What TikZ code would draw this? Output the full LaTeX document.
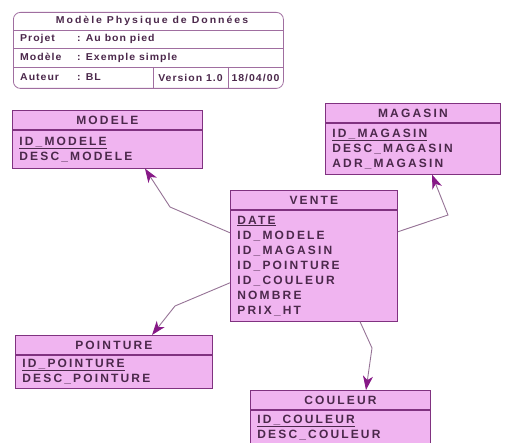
\documentclass[tikz,border=0pt]{standalone}
\usepackage{fontspec}
\usetikzlibrary{arrows.meta,positioning,calc}
\newfontfamily\mpdfont[LetterSpace=18]{Liberation Sans}
\newfontfamily\cartfont[FakeStretch=1.05,LetterSpace=10]{Liberation Sans}
\newfontfamily\titrefont[FakeStretch=1.05,LetterSpace=20]{Liberation Sans}
\definecolor{fondtable}{RGB}{240,180,240}
\definecolor{bordtable}{RGB}{128,50,128}
\definecolor{textetable}{RGB}{75,40,75}
\definecolor{lienmauve}{RGB}{150,115,150}
\definecolor{pointemauve}{RGB}{135,25,135}
\definecolor{cadremauve}{RGB}{160,110,160}

\begin{document}
\begin{tikzpicture}[x=1pt,y=-1pt,
  entete/.style={draw=bordtable,fill=fondtable,text=textetable,line width=0.8pt,
    font=\mpdfont\bfseries\fontsize{12}{15}\selectfont,minimum height=19pt,inner sep=0pt,anchor=north west},
  corps/.style={draw=bordtable,fill=fondtable,text=textetable,line width=0.8pt,
    font=\mpdfont\bfseries\fontsize{12}{15}\selectfont,align=left,inner xsep=7pt,inner ysep=0pt},
  lien/.style={draw=lienmauve,line width=0.9pt,-{Stealth[length=14pt,width=10pt,inset=4pt,color=pointemauve]}},
  cadre/.style={draw=cadremauve,line width=0.8pt},
  cartext/.style={text=textetable,font=\cartfont\bfseries\fontsize{10}{12}\selectfont,anchor=west,inner sep=0pt}]
\useasboundingbox (0,0) rectangle (515,443);
\fill[white] (0,0) rectangle (515,443);
\clip (0,0) rectangle (515,443);

% cartouche
\node[draw=cadremauve,line width=0.8pt,rounded corners=7pt,minimum width=270pt,minimum height=76pt,inner sep=0pt,anchor=north west] (cartouche) at (13,12) {};
\draw[cadre] (13,30) -- (283,30);
\draw[cadre] (13,48) -- (283,48);
\draw[cadre] (13,67) -- (283,67);
\draw[cadre] (153,67) -- (153,88);
\draw[cadre] (228,67) -- (228,88);
\node[cartext,anchor=center,font=\titrefont\bfseries\fontsize{10}{12}\selectfont] (titre) at (152,21) {Modèle Physique de Données};
\node[cartext] (projet) at (20,39) {\makebox[57pt][l]{Projet}: Au bon pied};
\node[cartext] (modele-ligne) at (20,57.5) {\makebox[57pt][l]{Modèle}: Exemple simple};
\node[cartext] (auteur) at (20,77.5) {\makebox[57pt][l]{Auteur}: BL};
\node[cartext,anchor=center] (version) at (190.5,77.5) {Version 1.0};
\node[cartext,anchor=center] (date) at (255.5,77.5) {18/04/00};

% tables
\node[entete,minimum width=190pt] (modele) at (12,110) {MODELE};
\node[corps,text width=176pt,minimum height=38pt,below=0pt of modele] (modele-corps) {\underline{ID\_MODELE}\\DESC\_MODELE};

\node[entete,minimum width=175pt] (magasin) at (325,103) {MAGASIN};
\node[corps,text width=161pt,minimum height=51pt,below=0pt of magasin] (magasin-corps) {\underline{ID\_MAGASIN}\\DESC\_MAGASIN\\ADR\_MAGASIN};

\node[entete,minimum width=167pt] (vente) at (230,190) {VENTE};
\node[corps,text width=153pt,minimum height=111pt,below=0pt of vente] (vente-corps) {\underline{DATE}\\ID\_MODELE\\ID\_MAGASIN\\ID\_POINTURE\\ID\_COULEUR\\NOMBRE\\PRIX\_HT};

\node[entete,minimum width=197pt] (pointure) at (15,335) {POINTURE};
\node[corps,text width=183pt,minimum height=33pt,below=0pt of pointure] (pointure-corps) {\underline{ID\_POINTURE}\\DESC\_POINTURE};

\node[entete,minimum width=180pt] (couleur) at (250,390) {COULEUR};
\node[corps,text width=166pt,minimum height=35pt,below=0pt of couleur] (couleur-corps) {\underline{ID\_COULEUR}\\DESC\_COULEUR};

% liens
\coordinate (coude-modele) at (170,207);
\coordinate (coude-magasin) at (448,215);
\coordinate (coude-pointure) at (175,306);
\coordinate (coude-couleur) at (372,348);
\draw[lien] ([yshift=-23pt]vente-corps.north west) -- (coude-modele) -- ([xshift=133pt]modele-corps.south west);
\draw[lien] ([yshift=-22pt]vente-corps.north east) -- (coude-magasin) -- ([xshift=107pt]magasin-corps.south west);
\draw[lien] ([yshift=-73pt]vente-corps.north west) -- (coude-pointure) -- ([xshift=137pt]pointure.north west);
\draw[lien] ([xshift=130pt]vente-corps.south west) -- (coude-couleur) -- ([xshift=116pt]couleur.north west);
\end{tikzpicture}
\end{document}
